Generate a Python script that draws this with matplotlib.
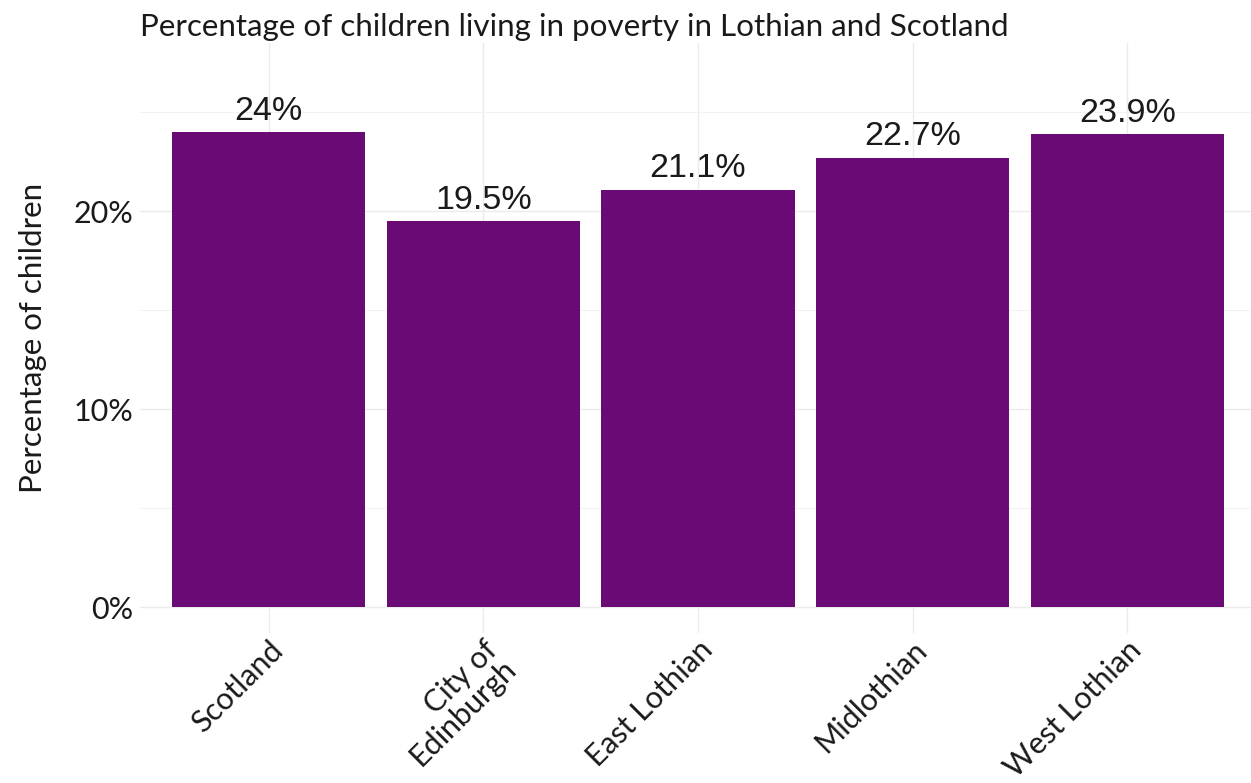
import matplotlib
matplotlib.use("Agg")
import matplotlib.pyplot as plt
from matplotlib.ticker import FixedLocator

# Share of children living in poverty (%)
areas = ["Scotland", "City of\nEdinburgh", "East Lothian", "Midlothian", "West Lothian"]
poverty_pct = [24.0, 19.5, 21.1, 22.7, 23.9]
value_labels = ["24%", "19.5%", "21.1%", "22.7%", "23.9%"]
y_ticks = [0, 10, 20]
y_tick_labels = ["0%", "10%", "20%"]
y_minor = [5, 15, 25]

W, H = 1251, 783
fig = plt.figure(figsize=(W / 100, H / 100), dpi=100)
fig.patch.set_facecolor("white")

# Panel placed in pixel terms
px_left, px_right, px_top, px_bottom = 140, 1256, 43, 633
ax = fig.add_axes([px_left / W, 1 - px_bottom / H,
                   (px_right - px_left) / W, (px_bottom - px_top) / H])
ax.set_facecolor("white")

x = list(range(1, len(areas) + 1))
ax.bar(x, poverty_pct, width=0.9, color="#6A0A75", zorder=2)

for xi, v, lab in zip(x, poverty_pct, value_labels):
    ax.annotate(lab, (xi, v), xytext=(0, 4), textcoords="offset points",
                ha="center", va="bottom", fontsize=24.5,
                family=["Liberation Sans", "DejaVu Sans"], color="#1a1a1a", zorder=3)

ax.set_xlim(0.4, 5.6)
ax.set_ylim(-1.3, 28.5)

ax.yaxis.set_major_locator(FixedLocator(y_ticks))
ax.set_yticklabels(y_tick_labels)
ax.yaxis.set_minor_locator(FixedLocator(y_minor))
ax.set_xticks(x)
ax.set_xticklabels(areas, rotation=45, ha="right", va="top",
                   rotation_mode="anchor", linespacing=0.9)

for lab in ax.get_xticklabels() + ax.get_yticklabels():
    lab.set_family(["Lato", "DejaVu Sans"])
    lab.set_fontsize(22)
    lab.set_color("#1a1a1a")

ax.tick_params(axis="both", which="both", length=0)
ax.tick_params(axis="y", pad=5)
ax.tick_params(axis="x", pad=2)

ax.grid(True, which="major", color="#EBEBEB", linewidth=1.0, zorder=0)
ax.grid(True, which="minor", axis="y", color="#F2F2F2", linewidth=0.8, zorder=0)
for s in ax.spines.values():
    s.set_visible(False)

ax.set_ylabel("Percentage of children", fontsize=22.5, family=["Lato", "DejaVu Sans"],
              color="#1a1a1a", labelpad=19)

fig.text(px_left / W, 1 - 36 / H,
         "Percentage of children living in poverty in Lothian and Scotland",
         fontsize=22.6, family=["Lato", "DejaVu Sans"], color="#1a1a1a",
         ha="left", va="baseline")

fig.savefig("out.png", dpi=100, facecolor="white")
